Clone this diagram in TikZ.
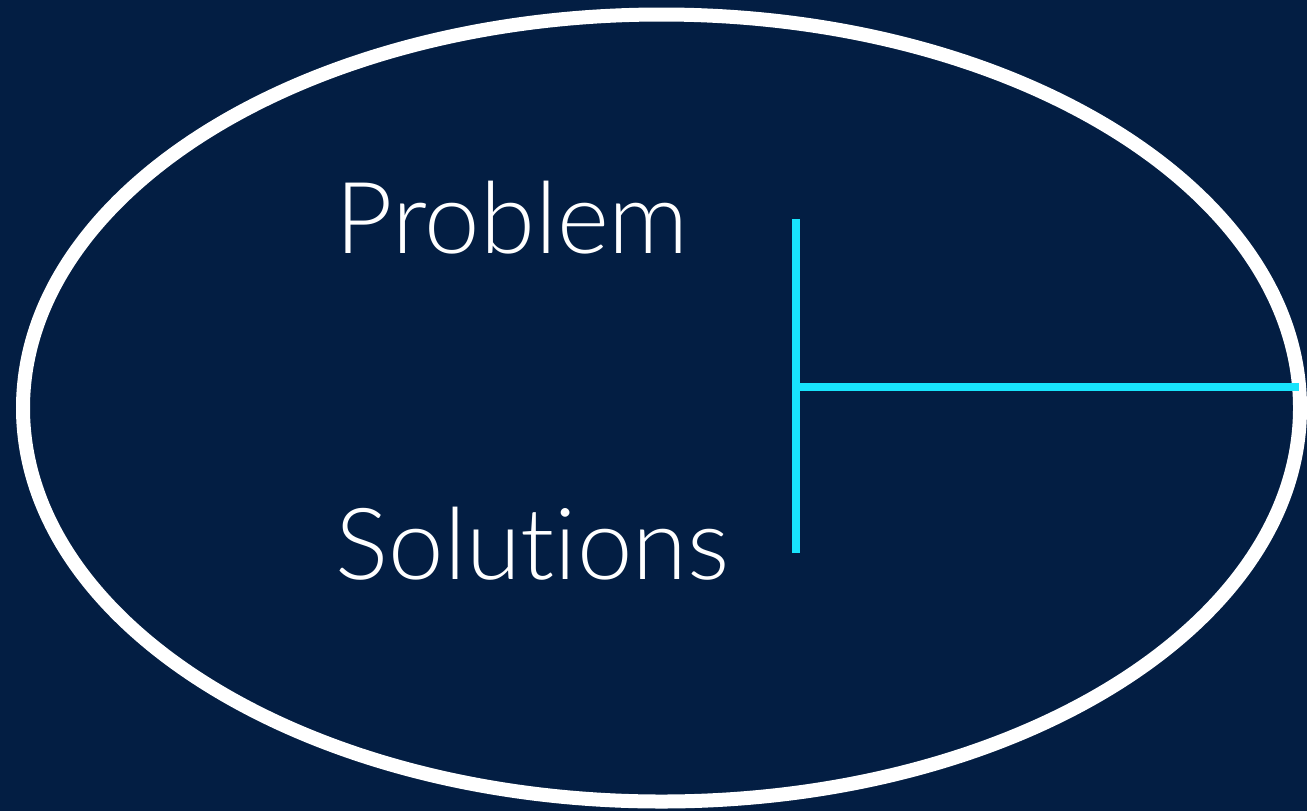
\documentclass[tikz,border=0pt]{standalone}
\usepackage{fontspec}
\usepackage{tikz}
\usetikzlibrary{positioning}
\newfontfamily\labelfont[Ligatures=NoCommon]{Lato Light}
\definecolor{pbnavy}{HTML}{031E43}
\definecolor{pbcyan}{HTML}{18E4FC}

\begin{document}
\begin{tikzpicture}[x=0.01cm,y=0.01cm]
    \fill[pbnavy] (0,0) rectangle (1307,811);
    \useasboundingbox (0,0) rectangle (1307,811);
    \draw[white,line width=14*0.01cm] (661.5,403) ellipse [x radius=638.5,y radius=393.5];
    \node[anchor=base west,inner sep=0pt,text=white,font=\labelfont\fontsize{28.3}{34}\selectfont] (problem) at (335,558) {Problem};
    \node[anchor=base west,inner sep=0pt,text=white,font=\labelfont\fontsize{28.3}{34}\selectfont] (solutions) at (335,232) {Solutions};
    \coordinate (top) at (796,592);
    \coordinate (bottom) at (796,258);
    \coordinate (mid) at (796,424);
    \coordinate (exit) at (1299,424);
    \draw[pbcyan,line width=8*0.01cm] (top) -- (bottom);
    \draw[pbcyan,line width=8*0.01cm] (mid) -- (exit);
  \end{tikzpicture}
\end{document}
